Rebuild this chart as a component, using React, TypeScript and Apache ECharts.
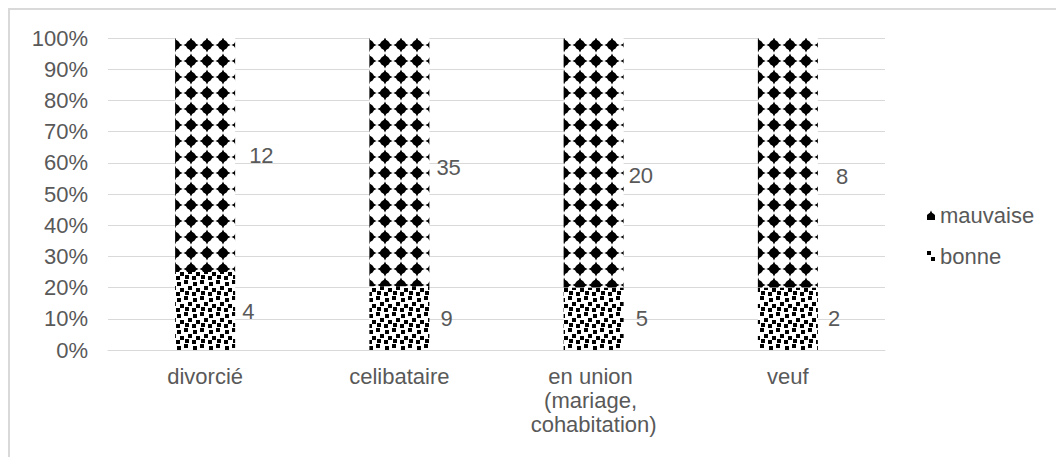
import React, { useEffect, useRef } from "react";
import * as echarts from "echarts";

const categories = ["divorcié", "celibataire", "en union (mariage, cohabitation)", "veuf"];
const bonne = [4, 9, 5, 2];
const mauvaise = [12, 35, 20, 8];
const yTickStep = 10;

// label nudges (style only), [dx, dy] in px
const mauvaiseLabelNudge = [[9, 0], [2, 5], [0, 13], [13, 14]];
const bonneLabelNudge = [[2, 0], [6, 0], [7, 0], [5, 0]];

const FONT = "'Liberation Sans', Arial, sans-serif";
const GREY = "#595959";
const T = 16;

function mod(a: number, m: number) {
  return ((a % m) + m) % m;
}

function diamondTile(px: number, py: number): HTMLCanvasElement {
  const c = document.createElement("canvas");
  c.width = T;
  c.height = T;
  const g = c.getContext("2d")!;
  g.fillStyle = "#ffffff";
  g.fillRect(0, 0, T, T);
  g.fillStyle = "#000000";
  const R = 7.6, r = 2.4;
  for (let a = -1; a <= 1; a++) {
    for (let b = -1; b <= 1; b++) {
      const cx = px + a * T, cy = py + b * T;
      g.beginPath();
      g.moveTo(cx - R, cy);
      g.lineTo(cx - r, cy - r);
      g.lineTo(cx, cy - R);
      g.lineTo(cx + r, cy - r);
      g.lineTo(cx + R, cy);
      g.lineTo(cx + r, cy + r);
      g.lineTo(cx, cy + R);
      g.lineTo(cx - r, cy + r);
      g.closePath();
      g.fill();
      g.beginPath();
      g.arc(cx, cy, 4.9, 0, Math.PI * 2);
      g.fill();
    }
  }
  return c;
}

function dotTile(): HTMLCanvasElement {
  const c = document.createElement("canvas");
  c.width = T;
  c.height = T;
  const g = c.getContext("2d")!;
  g.fillStyle = "#ffffff";
  g.fillRect(0, 0, T, T);
  g.fillStyle = "#000000";
  const sq: [number, number][] = [
    [0, 0], [9, 2], [4, 6], [12, 8], [1, 11], [8, 12],
  ];
  sq.forEach(([x, y]) => g.fillRect(x, y, 4, 4));
  return c;
}

export default function App() {
  const ref = useRef<HTMLDivElement>(null);

  useEffect(() => {
    if (!ref.current) return;
    const chart = echarts.init(ref.current, undefined, { renderer: "svg" });
    const pTile = dotTile();
    const pat = (img: HTMLCanvasElement) => ({
      image: img,
      repeat: "repeat",
      imageWidth: T,
      imageHeight: T,
    });

    const totals = categories.map((_, i) => bonne[i] + mauvaise[i]);
    const bonnePct = bonne.map((v, i) => (v / totals[i]) * 100);
    const mauvaisePct = mauvaise.map((v, i) => (v / totals[i]) * 100);

    const build = (barLefts: number[] | null, topY: number) => ({
      animation: false,
      graphic: [
        {
          type: "rect",
          z: -10,
          shape: { x: 1, y: 1, width: 3000, height: 3000 },
          style: { fill: "none", stroke: "#d9d9d9", lineWidth: 2 },
        },
      ],
      grid: { left: 100, top: 30, width: 777, height: 312 },
      legend: {
        orient: "vertical",
        left: 914,
        top: 191,
        itemGap: 19,
        itemWidth: 8,
        itemHeight: 10,
        icon: "rect",
        data: ["mauvaise", "bonne"],
        textStyle: { color: GREY, fontSize: 22, fontFamily: FONT, lineHeight: 22 },
      },
      xAxis: {
        type: "category",
        data: categories,
        axisLine: { lineStyle: { color: "#d9d9d9", width: 1 } },
        axisTick: { show: false },
        axisLabel: {
          interval: 0,
          color: GREY,
          fontSize: 22,
          fontFamily: FONT,
          lineHeight: 24,
          margin: 14,
          width: 150,
          overflow: "break",
        },
      },
      yAxis: {
        type: "value",
        min: 0,
        max: 100,
        interval: yTickStep,
        axisLine: { show: false },
        axisTick: { show: false },
        splitLine: { lineStyle: { color: "#d9d9d9", width: 1 } },
        axisLabel: {
          formatter: "{value}%",
          color: GREY,
          fontSize: 22,
          fontFamily: FONT,
          margin: 20,
        },
      },
      series: [
        {
          name: "bonne",
          type: "bar",
          stack: "t",
          barWidth: 60,
          itemStyle: { color: pat(pTile) },
          data: bonnePct.map((v, i) => ({
            value: v,
            label: { offset: bonneLabelNudge[i] },
          })),
          label: {
            show: true,
            position: "right",
            distance: 5,
            color: GREY,
            fontSize: 22,
            fontFamily: FONT,
            formatter: (p: any) => String(bonne[p.dataIndex]),
          },
        },
        {
          name: "mauvaise",
          type: "bar",
          stack: "t",
          barWidth: 60,
          itemStyle: { color: pat(diamondTile(4, 8)) },
          data: mauvaisePct.map((v, i) => ({
            value: v,
            itemStyle: barLefts
              ? { color: pat(diamondTile(mod(barLefts[i], T), mod(topY + 7, T))) }
              : undefined,
            label: { offset: mauvaiseLabelNudge[i] },
          })),
          label: {
            show: true,
            position: "right",
            distance: 5,
            color: GREY,
            fontSize: 22,
            fontFamily: FONT,
            formatter: (p: any) => String(mauvaise[p.dataIndex]),
          },
        },
      ],
    });

    chart.setOption(build(null, 30) as any);
    const lefts = categories.map((c) => Math.round((chart.convertToPixel({ xAxisIndex: 0 }, c) as number) - 30));
    const topY = Math.round(chart.convertToPixel({ yAxisIndex: 0 }, 100) as number);
    chart.setOption(build(lefts, topY) as any);

    return () => chart.dispose();
  }, []);

  return <div ref={ref} style={{ width: 1056, height: 449 }} />;
}
